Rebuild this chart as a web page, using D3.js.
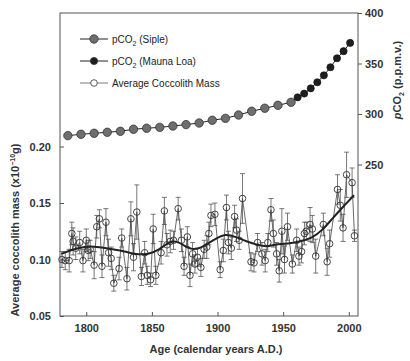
<!DOCTYPE html>
<html>
<head>
<meta charset="utf-8">
<script src="https://cdn.jsdelivr.net/npm/d3@7"></script>
<style>
body { margin: 0; background: #fff; }
svg { font-family: "Liberation Sans", Arial, sans-serif; }
.axis text { font-size: 11px; font-weight: bold; fill: #333; }
.axis line, .axis path { stroke: #555; }
</style>
</head>
<body>
<svg width="410" height="361"></svg>
<script>
// pCO2 from Siple ice core
var sipleYears = [1786,1796,1806,1816,1826,1836,1846,1856,1866,1876,1886,1896,1906,1916,1926,1936,1946,1956];
var sipleCO2 = [278.6,279.9,280.9,281.9,282.9,284.9,285.9,286.8,288.1,289.5,291.1,293.8,295.7,299,302.7,305.7,308.6,311.6];

// pCO2 Mauna Loa
var mloYears = [1961,1966,1971,1976,1981,1986,1991,1996,2001];
var mloCO2 = [316.5,320.2,325.4,331.4,338.3,346.3,355.2,362.2,370.4];

// coccolith mass samples (x10^-10 g) with error
var coccYears = [1781.5,1784,1787,1789,1790,1792,1795,1797.5,1800,1801.5,1803,1806,1808,1810,1812,1815,1817,1819,1821,1825,
  1827,1831,1834,1836,1838.5,1842,1844.5,1846.5,1849,1851,1853,1857,1859.5,1861.5,1864,1866.5,1870,1872.5,1874.5,1877,
  1879,1881,1882.8,1884.7,1887.3,1889.8,1891.8,1893.4,1895,1898,1902,1904.4,1906.8,1908.3,1910.5,1913,1914.5,1916.5,1919,1925.5,
  1927.8,1930.5,1933.8,1936.3,1938.3,1940.7,1942.5,1945,1947,1949,1951,1953.3,1957,1960.3,1962,1964,1966.2,1967.6,1970.5,1972.2,
  1974.8,1980.6,1983.5,1985.4,1991.4,1993.5,1995.6,1998.3,2002.5,2004.3];
var coccMass = [0.100,0.099,0.099,0.123,0.116,0.110,0.115,0.099,0.117,0.108,0.109,0.095,0.129,0.136,0.094,0.133,0.106,0.101,0.079,0.092,
  0.119,0.083,0.136,0.102,0.142,0.085,0.106,0.086,0.082,0.127,0.086,0.106,0.143,0.113,0.116,0.117,0.145,0.117,0.094,0.120,
  0.086,0.105,0.096,0.102,0.093,0.109,0.111,0.123,0.139,0.140,0.091,0.108,0.146,0.115,0.110,0.138,0.126,0.117,0.154,0.098,
  0.097,0.115,0.105,0.099,0.115,0.144,0.123,0.105,0.090,0.125,0.100,0.129,0.096,0.117,0.103,0.107,0.123,0.125,0.131,0.127,
  0.103,0.131,0.098,0.114,0.162,0.148,0.128,0.175,0.168,0.121];
var coccErr = [0.007,0.008,0.010,0.010,0.012,0.010,0.010,0.010,0.010,0.009,0.008,0.012,0.010,0.008,0.010,0.012,0.012,0.010,0.007,0.010,
  0.008,0.010,0.015,0.012,0.024,0.008,0.010,0.008,0.006,0.013,0.008,0.010,0.012,0.010,0.010,0.008,0.010,0.010,0.008,0.009,
  0.010,0.010,0.008,0.008,0.008,0.008,0.010,0.010,0.010,0.010,0.007,0.010,0.011,0.010,0.010,0.010,0.010,0.008,0.022,0.008,
  0.008,0.008,0.010,0.010,0.008,0.010,0.012,0.010,0.010,0.020,0.012,0.012,0.008,0.010,0.008,0.010,0.010,0.008,0.015,0.012,
  0.015,0.010,0.012,0.012,0.013,0.014,0.012,0.020,0.013,0.005];

// smoothed average
var smoothYears = [1781,1790,1800,1810,1820,1830,1840,1848,1855,1862,1868,1875,1882,1890,1898,1906,1914,1922,1930,1938,1946,1955,1963,1972,1980,1988,1996,2004];
var smoothMass = [0.105,0.109,0.112,0.111,0.109,0.107,0.104,0.105,0.108,0.115,0.117,0.112,0.108,0.112,0.118,0.123,0.120,0.116,0.113,0.111,0.114,0.114,0.116,0.119,0.126,0.137,0.147,0.157];

var yTicksLeft = [0.05,0.10,0.15,0.20];
var yTicksRight = [250,300,350,400];
var xTicks = [1800,1850,1900,1950,2000];

var box = {left: 60, top: 13, right: 358, bottom: 316};
var svg = d3.select("svg");

var x = d3.scaleLinear().domain([1780, 2007]).range([box.left, box.right]);
var yL = d3.scaleLinear().domain([0.05, 0.20]).range([box.bottom, 146.5]);
var yR = d3.scaleLinear().domain([100, 400]).range([box.bottom, box.top]);

// frame
svg.append("rect")
  .attr("x", box.left).attr("y", box.top)
  .attr("width", box.right - box.left).attr("height", box.bottom - box.top)
  .attr("fill", "none").attr("stroke", "#555").attr("stroke-width", 1);

svg.append("g").attr("class", "axis")
  .attr("transform", "translate(0," + box.bottom + ")")
  .call(d3.axisBottom(x).tickValues(xTicks).tickFormat(d3.format("d")).tickSizeInner(-4).tickSizeOuter(0).tickPadding(8));

svg.append("g").attr("class", "axis")
  .attr("transform", "translate(" + box.left + ",0)")
  .call(d3.axisLeft(yL).tickValues(yTicksLeft).tickFormat(d3.format(".2f")).tickSizeInner(-4).tickSizeOuter(0).tickPadding(9));

svg.append("g").attr("class", "axis")
  .attr("transform", "translate(" + box.right + ",0)")
  .call(d3.axisRight(yR).tickValues(yTicksRight).tickSizeInner(4).tickSizeOuter(0).tickPadding(3));

svg.selectAll(".axis .domain").remove();

// coccolith error bars
var cocc = coccYears.map(function(yr, i) { return {x: yr, v: coccMass[i], e: coccErr[i]}; });
var eb = svg.append("g").attr("stroke", "#555").attr("stroke-width", 0.8);
cocc.forEach(function(d) {
  var cx = x(d.x);
  eb.append("line").attr("x1", cx).attr("x2", cx).attr("y1", yL(d.v + d.e)).attr("y2", yL(d.v - d.e));
  eb.append("line").attr("x1", cx - 2.5).attr("x2", cx + 2.5).attr("y1", yL(d.v + d.e)).attr("y2", yL(d.v + d.e));
  eb.append("line").attr("x1", cx - 2.5).attr("x2", cx + 2.5).attr("y1", yL(d.v - d.e)).attr("y2", yL(d.v - d.e));
});

svg.append("path").datum(cocc)
  .attr("fill", "none").attr("stroke", "#444").attr("stroke-width", 0.8)
  .attr("d", d3.line().x(function(d) { return x(d.x); }).y(function(d) { return yL(d.v); }));

svg.append("g").selectAll("circle").data(cocc).enter().append("circle")
  .attr("cx", function(d) { return x(d.x); })
  .attr("cy", function(d) { return yL(d.v); })
  .attr("r", 3.3)
  .attr("fill", "none").attr("stroke", "#333").attr("stroke-width", 0.9);

// smooth curve
var smooth = smoothYears.map(function(yr, i) { return [yr, smoothMass[i]]; });
svg.append("path").datum(smooth)
  .attr("fill", "none").attr("stroke", "#222").attr("stroke-width", 2)
  .attr("d", d3.line().curve(d3.curveBasis).x(function(d) { return x(d[0]); }).y(function(d) { return yL(d[1]); }));

// pCO2 line and points
var siple = sipleYears.map(function(yr, i) { return [yr, sipleCO2[i]]; });
var mlo = mloYears.map(function(yr, i) { return [yr, mloCO2[i]]; });
svg.append("path").datum(siple.concat(mlo))
  .attr("fill", "none").attr("stroke", "#222").attr("stroke-width", 1)
  .attr("d", d3.line().x(function(d) { return x(d[0]); }).y(function(d) { return yR(d[1]); }));

svg.append("g").selectAll("circle").data(siple).enter().append("circle")
  .attr("cx", function(d) { return x(d[0]); }).attr("cy", function(d) { return yR(d[1]); })
  .attr("r", 4.2).attr("fill", "#6e6e6e").attr("stroke", "#333").attr("stroke-width", 0.8);

svg.append("g").selectAll("circle").data(mlo).enter().append("circle")
  .attr("cx", function(d) { return x(d[0]); }).attr("cy", function(d) { return yR(d[1]); })
  .attr("r", 3.6).attr("fill", "#1e1e1e").attr("stroke", "#111").attr("stroke-width", 0.6);

// legend
var legend = svg.append("g").attr("font-size", "10px").attr("fill", "#222");
var rows = [
  {label: "(Siple)", fill: "#6e6e6e", r: 4.2, w: 1},
  {label: "(Mauna Loa)", fill: "#1e1e1e", r: 3.6, w: 1},
  {label: "Average Coccolith Mass", fill: "#fff", r: 3.3, w: 0.8}
];
rows.forEach(function(r, i) {
  var ly = 39 + i * 22;
  legend.append("line").attr("x1", 80).attr("x2", 108).attr("y1", ly).attr("y2", ly)
    .attr("stroke", i == 2 ? "#555" : "#222").attr("stroke-width", r.w);
  legend.append("circle").attr("cx", 94).attr("cy", ly).attr("r", r.r)
    .attr("fill", r.fill).attr("stroke", "#333").attr("stroke-width", 0.8);
  var t = legend.append("text").attr("x", 112).attr("y", ly + 3.5);
  if (i < 2) {
    t.append("tspan").text("pCO");
    t.append("tspan").attr("font-size", "7px").attr("dy", 3).text("2");
    t.append("tspan").attr("dy", -3).text(" " + r.label);
  } else {
    t.text(r.label);
  }
});

// axis titles
svg.append("text")
  .attr("x", (box.left + box.right) / 2 + 7).attr("y", 353)
  .attr("text-anchor", "middle").attr("font-size", "11px").attr("font-weight", "bold").attr("fill", "#333")
  .text("Age (calendar years A.D.)");

var yt = svg.append("text")
  .attr("transform", "translate(19,230) rotate(-90)")
  .attr("text-anchor", "middle").attr("font-size", "11px").attr("font-weight", "bold").attr("fill", "#333");
yt.append("tspan").text("Average coccolith mass (x10");
yt.append("tspan").attr("font-size", "7px").attr("dy", -4).text("−10");
yt.append("tspan").attr("dy", 4).text("g)");

var rt = svg.append("text")
  .attr("transform", "translate(401,80) rotate(-90)")
  .attr("text-anchor", "middle").attr("font-size", "11px").attr("font-weight", "bold").attr("fill", "#333");
rt.append("tspan").attr("font-style", "italic").text("p");
rt.append("tspan").text("CO");
rt.append("tspan").attr("font-size", "7px").attr("dy", 3).text("2");
rt.append("tspan").attr("dy", -3).text(" (p.p.m.v.)");
</script>
</body>
</html>
